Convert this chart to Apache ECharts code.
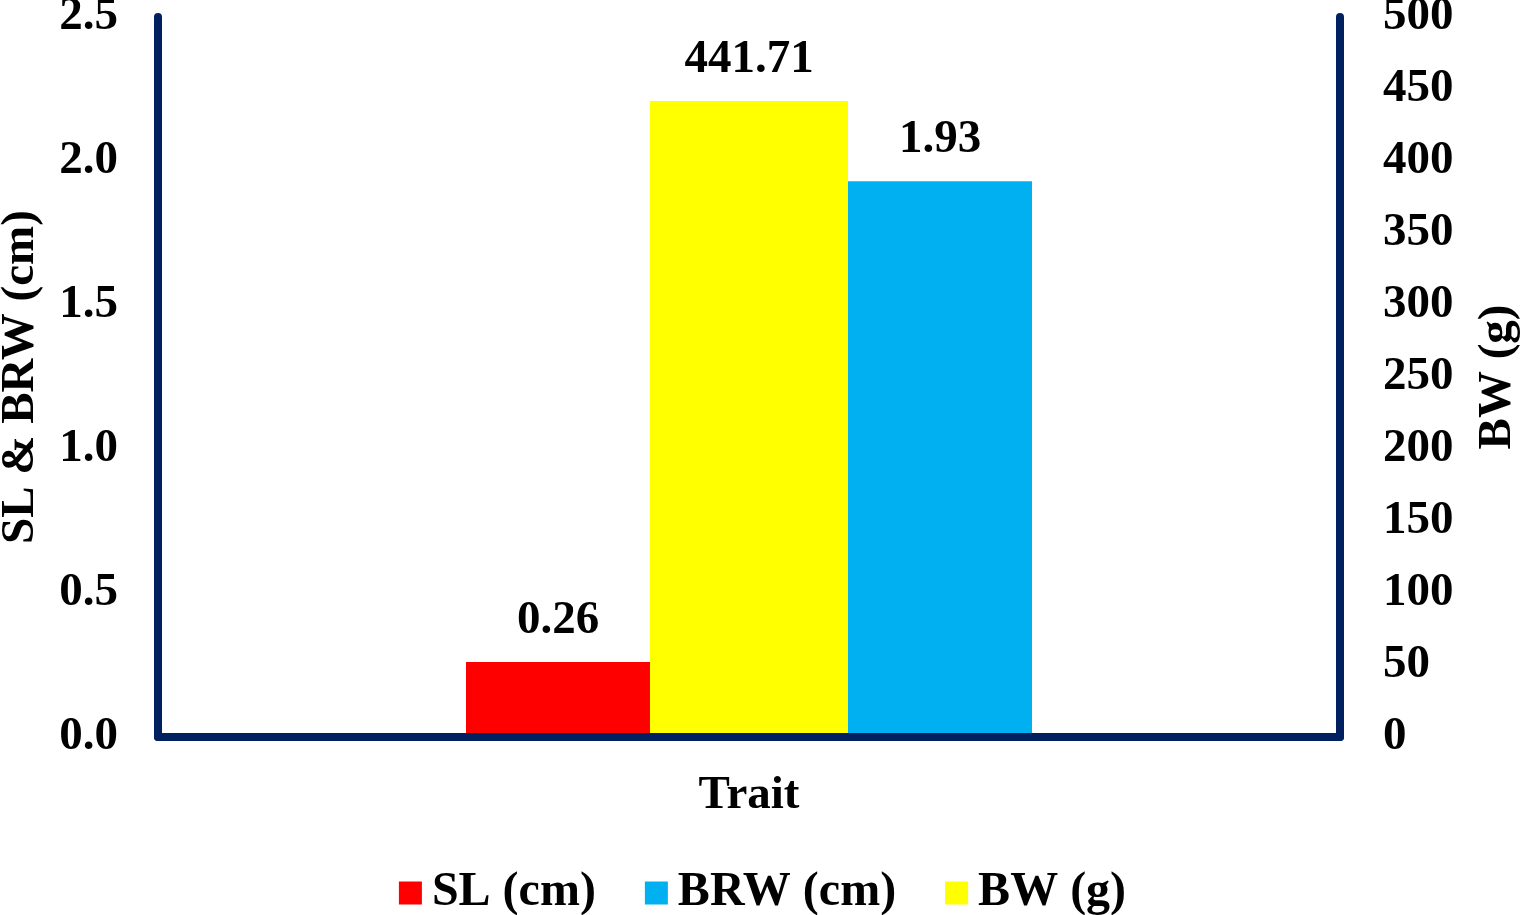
<!DOCTYPE html>
<html>
<head>
<meta charset="utf-8">
<script src="https://cdn.jsdelivr.net/npm/echarts@6/dist/echarts.min.js"></script>
<style>
html,body{margin:0;padding:0;background:#fff;}
#chart{width:1525px;height:915px;}
</style>
</head>
<body>
<div id="chart"></div>
<script>
var categories = ['Trait'];
var slValues = [0.26];
var bwValues = [441.71];
var brwValues = [1.93];
var seriesNames = ['SL (cm)', 'BW (g)', 'BRW (cm)'];
var legendOrder = ['SL (cm)', 'BRW (cm)', 'BW (g)'];
var leftAxisName = 'SL & BRW (cm)';
var rightAxisName = 'BW (g)';

var FONT = "'Liberation Serif', 'Times New Roman', serif";
var AXIS_COLOR = '#002060';
var fs = 47;

var chart = echarts.init(document.getElementById('chart'));
var labelStyle = {
  show: true, position: 'top', distance: 18,
  fontFamily: FONT, fontWeight: 'bold', fontSize: fs, color: '#000'
};
chart.setOption({
  backgroundColor: '#fff',
  animation: false,
  grid: {left: 158, right: 185, top: 17, bottom: 178, containLabel: false, outerBoundsMode: 'none'},
  legend: {
    data: legendOrder,
    left: 'center',
    top: 864,
    itemWidth: 23, itemHeight: 23, itemGap: 49,
    icon: 'rect',
    textStyle: {fontFamily: FONT, fontWeight: 'bold', fontSize: 48, color: '#000', padding: [0, 0, 0, 5]}
  },
  xAxis: {
    type: 'category',
    data: categories,
    z: 5,
    axisLine: {show: true, lineStyle: {color: AXIS_COLOR, width: 8}},
    axisTick: {show: false},
    axisLabel: {margin: 35, fontFamily: FONT, fontWeight: 'bold', fontSize: fs, color: '#000'},
    splitLine: {show: false}
  },
  yAxis: [{
    type: 'value', min: 0, max: 2.5, interval: 0.5,
    position: 'left',
    z: 5,
    name: leftAxisName, nameLocation: 'middle', nameRotate: 90, nameGap: 114,
    nameTextStyle: {fontFamily: FONT, fontWeight: 'bold', fontSize: fs, color: '#000'},
    axisLine: {show: true, lineStyle: {color: AXIS_COLOR, width: 8}},
    axisTick: {show: false},
    splitLine: {show: false},
    axisLabel: {margin: 40, fontFamily: FONT, fontWeight: 'bold', fontSize: fs, color: '#000',
      formatter: function (v) { return v.toFixed(1); }}
  }, {
    type: 'value', min: 0, max: 500, interval: 50,
    position: 'right',
    z: 5,
    name: rightAxisName, nameLocation: 'middle', nameRotate: 90, nameGap: 134,
    nameTextStyle: {fontFamily: FONT, fontWeight: 'bold', fontSize: fs, color: '#000'},
    axisLine: {show: true, lineStyle: {color: AXIS_COLOR, width: 8}},
    axisTick: {show: false},
    splitLine: {show: false},
    axisLabel: {margin: 43, fontFamily: FONT, fontWeight: 'bold', fontSize: fs, color: '#000'}
  }],
  series: [{
    name: seriesNames[0], type: 'bar', yAxisIndex: 0, data: slValues,
    barWidth: 184, barGap: '0%',
    itemStyle: {color: '#FF0000'}, label: labelStyle
  }, {
    name: seriesNames[1], type: 'bar', yAxisIndex: 1, data: bwValues,
    barWidth: 198, barGap: '0%',
    itemStyle: {color: '#FFFF00'}, label: labelStyle
  }, {
    name: seriesNames[2], type: 'bar', yAxisIndex: 0, data: brwValues,
    barWidth: 184, barGap: '0%',
    itemStyle: {color: '#00B0F0'}, label: labelStyle
  }]
});
</script>
</body>
</html>
